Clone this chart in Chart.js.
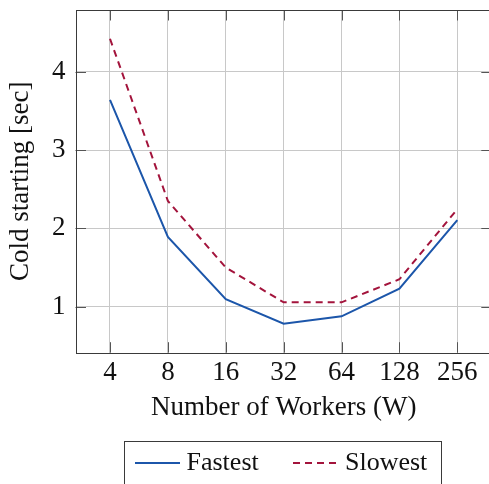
<!DOCTYPE html>
<html><head><meta charset="utf-8">
<script src="https://cdn.jsdelivr.net/npm/chart.js@4"></script>
<style>
html,body{margin:0;padding:0;overflow:hidden;background:#fff;width:489px;height:484px}
#wrap{width:493px;height:484px;position:relative}
</style></head>
<body><div id="wrap"><canvas id="c"></canvas></div>
<script>
const categories = ['4','8','16','32','64','128','256'];
const fastest = [3.64, 1.89, 1.095, 0.783, 0.877, 1.23, 2.105];
const slowest = [4.42, 2.35, 1.50, 1.056, 1.056, 1.35, 2.245];
const yTicks = [1, 2, 3, 4];
const seriesNames = ['Fastest', 'Slowest'];
const xLabel = 'Number of Workers (W)';
const yLabel = 'Cold starting [sec]';

const FONT = 'Liberation Serif, Times New Roman, serif';
const BLUE = '#1c56aa';
const RED = '#a3143c';
const AXIS = '#3a3a3a';

const frame = {
  id: 'frame',
  beforeDatasetsDraw(chart) {
    const {ctx, chartArea: a, scales: {x, y}} = chart;
    ctx.save();
    ctx.strokeStyle = '#555';
    ctx.lineWidth = 1;
    const L = 10.5;
    ctx.beginPath();
    x.ticks.forEach(t => {
      const px = Math.round(x.getPixelForValue(t.value)) + 0.5;
      ctx.moveTo(px, a.bottom); ctx.lineTo(px, a.bottom - L);
      ctx.moveTo(px, a.top); ctx.lineTo(px, a.top + L);
    });
    y.ticks.forEach(t => {
      const py = Math.round(y.getPixelForValue(t.value)) + 0.5;
      ctx.moveTo(a.left, py); ctx.lineTo(a.left + L, py);
      ctx.moveTo(a.right, py); ctx.lineTo(a.right - L, py);
    });
    ctx.stroke();
    ctx.strokeStyle = AXIS;
    ctx.strokeRect(Math.round(a.left) + 0.5, Math.round(a.top) + 0.5,
                   Math.round(a.right - a.left), Math.round(a.bottom - a.top));
    ctx.restore();
  },
  afterDraw(chart) {
    const {ctx} = chart;
    const ds = chart.data.datasets;
    ctx.save();
    ctx.strokeStyle = AXIS;
    ctx.lineWidth = 1;
    ctx.strokeRect(124.5, 441.5, 317, 60);
    ctx.font = '26px ' + FONT;
    ctx.fillStyle = '#111';
    ctx.textBaseline = 'middle';
    const items = [{x0: 135, x1: 180, tx: 186.5}, {x0: 293, x1: 339, tx: 345}];
    items.forEach((it, i) => {
      ctx.strokeStyle = ds[i].borderColor;
      ctx.lineWidth = ds[i].borderWidth;
      ctx.setLineDash(ds[i].borderDash || []);
      ctx.beginPath(); ctx.moveTo(it.x0, 463); ctx.lineTo(it.x1, 463); ctx.stroke();
      ctx.setLineDash([]);
      ctx.fillText(ds[i].label, it.tx, 463);
    });
    ctx.restore();
  }
};

new Chart(document.getElementById('c'), {
  type: 'line',
  data: {
    datasets: [
      {label: seriesNames[0], data: fastest.map((v, i) => ({x: i, y: v})),
       borderColor: BLUE, borderWidth: 2, pointRadius: 0, fill: false, tension: 0},
      {label: seriesNames[1], data: slowest.map((v, i) => ({x: i, y: v})),
       borderColor: RED, borderWidth: 2, borderDash: [7, 5], pointRadius: 0, fill: false, tension: 0}
    ]
  },
  options: {
    responsive: true, maintainAspectRatio: false, animation: false, devicePixelRatio: 1,
    layout: {padding: {top: 10, right: 1.2, left: 0, bottom: 0}},
    plugins: {legend: {display: false}, tooltip: {enabled: false}},
    scales: {
      x: {
        type: 'linear', min: -0.596, max: 6.596,
        afterBuildTicks: s => { s.ticks = categories.map((c, i) => ({value: i})); },
        afterFit: s => { s.height = 131.3; s.paddingLeft = 0; s.paddingRight = 0; },
        ticks: {callback: v => categories[v], color: '#111', padding: 4,
                font: {family: FONT, size: 27}, maxRotation: 0, autoSkip: false},
        grid: {color: '#c8c8c8', drawTicks: false, lineWidth: 1},
        border: {display: false},
        title: {display: true, text: xLabel, color: '#111', font: {family: FONT, size: 27},
                padding: {top: 0, bottom: 60}}
      },
      y: {
        type: 'linear', min: 0.413, max: 4.787,
        afterBuildTicks: s => { s.ticks = yTicks.map(v => ({value: v})); },
        afterFit: s => { s.width = 75.5; s.paddingTop = 0; s.paddingBottom = 0; },
        ticks: {color: '#111', padding: 10, font: {family: FONT, size: 27}},
        grid: {color: '#c8c8c8', drawTicks: false, lineWidth: 1},
        border: {display: false},
        title: {display: true, text: yLabel, color: '#111', font: {family: FONT, size: 27},
                padding: {top: 5, bottom: 0}}
      }
    }
  },
  plugins: [frame]
});
</script>
</body></html>
